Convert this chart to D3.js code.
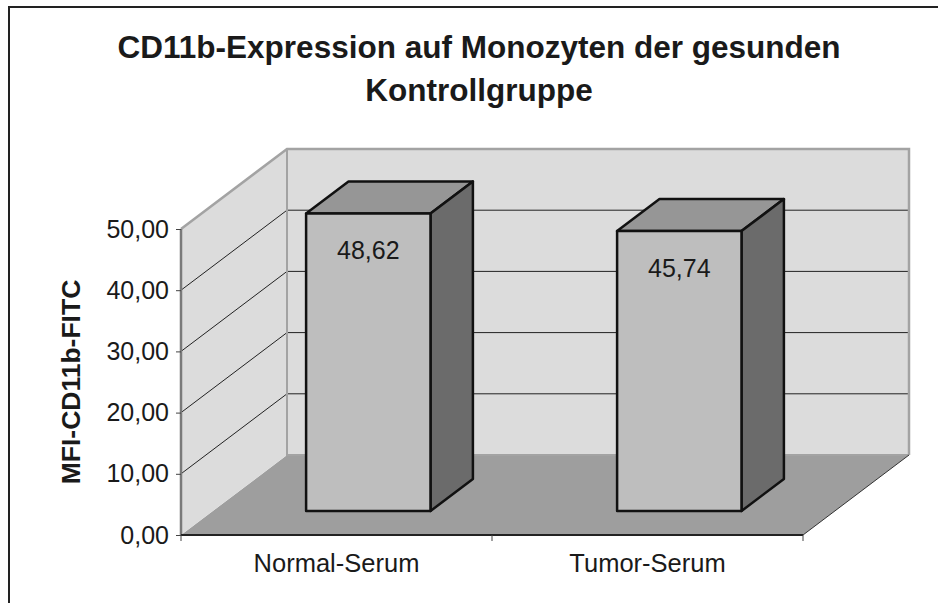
<!DOCTYPE html>
<html>
<head>
<meta charset="utf-8">
<script src="https://cdn.jsdelivr.net/npm/d3@7/dist/d3.min.js"></script>
<style>
  html, body { margin: 0; padding: 0; background: #fff; }
  svg { display: block; font-family: "Liberation Sans", Arial, sans-serif; }
</style>
</head>
<body>
<svg id="chart" width="938" height="603"></svg>
<script>
// Chart data
const categories = ["Normal-Serum", "Tumor-Serum"];
const values = [48.62, 45.74];
const valueLabels = ["48,62", "45,74"];
const yTicks = [0, 10, 20, 30, 40, 50];
const yTickLabels = ["0,00", "10,00", "20,00", "30,00", "40,00", "50,00"];
const titleLines = ["CD11b-Expression auf Monozyten der gesunden", "Kontrollgruppe"];
const yAxisTitle = "MFI-CD11b-FITC";

const svg = d3.select("#chart");
const W = 938, H = 603;

// Front plane of the 3D box and the depth offset of the back wall
const x0 = 181, x1 = 803, yBase = 535, yTopFront = 229;
const depthDx = 106, depthDy = -80;

const y = d3.scaleLinear().domain([0, 50]).range([yBase, yTopFront]);
const x = d3.scaleBand().domain(categories).range([x0, x1])
  .paddingInner(0.6).paddingOuter(0.3);
const xCat = d3.scaleBand().domain(categories).range([x0, x1]);

// project a front-plane point at depth d (0 = front, 1 = back)
const P = (px, py, d) => [px + depthDx * d, py + depthDy * d];
const poly = pts => "M" + pts.map(p => p.join(",")).join("L") + "Z";

// frame
svg.append("path")
  .attr("d", `M9,${H} L9,7 L${W},7`)
  .attr("fill", "none").attr("stroke", "#222").attr("stroke-width", 2);

// title
const title = svg.append("text")
  .attr("text-anchor", "middle")
  .attr("font-weight", "bold").attr("font-size", 31.5).attr("fill", "#1a1a1a");
titleLines.forEach((t, i) => {
  title.append("tspan").attr("x", 479).attr("y", 58 + i * 43).text(t);
});

const wallFill = "#dcdcdc", wallEdge = "#a3a3a3", floorFill = "#9e9e9e";

// floor
const floorPts = [P(x0, yBase, 0), P(x1, yBase, 0), P(x1, yBase, 1), P(x0, yBase, 1)];
svg.append("path").attr("d", poly(floorPts)).attr("fill", floorFill);

// back wall
const backPts = [P(x0, y(50), 1), P(x1, y(50), 1), P(x1, y(0), 1), P(x0, y(0), 1)];
svg.append("path").attr("d", poly(backPts)).attr("fill", wallFill);

// side wall
const sidePts = [P(x0, y(0), 0), P(x0, y(50), 0), P(x0, y(50), 1), P(x0, y(0), 1)];
svg.append("path").attr("d", poly(sidePts)).attr("fill", wallFill);

// gridlines: diagonal on the side wall, horizontal on the back wall
const gridVals = yTicks.filter(v => v > 0 && v < 50);
gridVals.forEach(v => {
  const a = P(x0, y(v), 0), b = P(x0, y(v), 1), c = P(x1, y(v), 1);
  svg.append("path").attr("d", `M${a}L${b}L${c}`)
    .attr("fill", "none").attr("stroke", "#222").attr("stroke-width", 1);
});

// wall edges
svg.append("path")
  .attr("d", `M${P(x0, y(50), 0)}L${P(x0, y(50), 1)}L${P(x1, y(50), 1)}L${P(x1, y(0), 1)}`)
  .attr("fill", "none").attr("stroke", wallEdge).attr("stroke-width", 2.5);
svg.append("path")
  .attr("d", `M${P(x0, y(50), 1)}L${P(x0, y(0), 1)}L${P(x1, y(0), 1)}`)
  .attr("fill", "none").attr("stroke", wallEdge).attr("stroke-width", 2);
// floor right edge
svg.append("path")
  .attr("d", `M${P(x1, yBase, 0)}L${P(x1, yBase, 1)}`)
  .attr("fill", "none").attr("stroke", "#333").attr("stroke-width", 1);

// bars (front face at depth 0.3, back face at depth 0.7)
const dF = 0.3, dB = 0.7;
const bars = svg.append("g");
categories.forEach((c, i) => {
  const l = x(c), r = x(c) + x.bandwidth(), t = y(values[i]), b = y(0);
  const g = bars.append("g")
    .attr("stroke", "#111").attr("stroke-width", 2.5).attr("stroke-linejoin", "round");
  // top face
  g.append("path").attr("d", poly([P(l, t, dF), P(r, t, dF), P(r, t, dB), P(l, t, dB)]))
    .attr("fill", "#969696");
  // right side face
  g.append("path").attr("d", poly([P(r, t, dF), P(r, t, dB), P(r, b, dB), P(r, b, dF)]))
    .attr("fill", "#6b6b6b");
  // front face
  g.append("path").attr("d", poly([P(l, t, dF), P(r, t, dF), P(r, b, dF), P(l, b, dF)]))
    .attr("fill", "#bebebe");
  // value label
  const [cx, cy] = P(l + x.bandwidth() / 2, t, dF);
  svg.append("text")
    .attr("x", cx).attr("y", cy + 46)
    .attr("text-anchor", "middle").attr("font-size", 25).attr("fill", "#1a1a1a")
    .text(valueLabels[i]);
});

// value axis
svg.append("line")
  .attr("x1", x0).attr("x2", x0).attr("y1", y(50)).attr("y2", y(0))
  .attr("stroke", "#7a7a7a").attr("stroke-width", 2.5);
const yAxis = d3.axisLeft(y).tickValues(yTicks)
  .tickFormat((d, i) => yTickLabels[i]).tickSize(5).tickPadding(7);
const gy = svg.append("g").attr("transform", `translate(${x0},0)`).call(yAxis);
gy.select(".domain").remove();
gy.selectAll(".tick line").attr("stroke", "#444");
gy.selectAll(".tick text")
  .attr("font-size", 25).attr("fill", "#1a1a1a")
  .attr("font-family", "Liberation Sans, Arial, sans-serif");

// category axis
svg.append("line")
  .attr("x1", x0).attr("x2", x1).attr("y1", yBase).attr("y2", yBase)
  .attr("stroke", "#222").attr("stroke-width", 2);
const catTicks = categories.map(c => xCat(c)).concat([x1]);
catTicks.forEach(tx => {
  svg.append("line").attr("x1", tx).attr("x2", tx).attr("y1", yBase).attr("y2", yBase + 6)
    .attr("stroke", "#444").attr("stroke-width", 1);
});
categories.forEach(c => {
  svg.append("text")
    .attr("x", xCat(c) + xCat.bandwidth() / 2).attr("y", 572)
    .attr("text-anchor", "middle").attr("font-size", 25.5).attr("fill", "#1a1a1a")
    .text(c);
});

// value axis title
svg.append("text")
  .attr("transform", "translate(80,382) rotate(-90)")
  .attr("text-anchor", "middle").attr("font-weight", "bold").attr("font-size", 26.5)
  .attr("fill", "#1a1a1a")
  .text(yAxisTitle);
</script>
</body>
</html>
